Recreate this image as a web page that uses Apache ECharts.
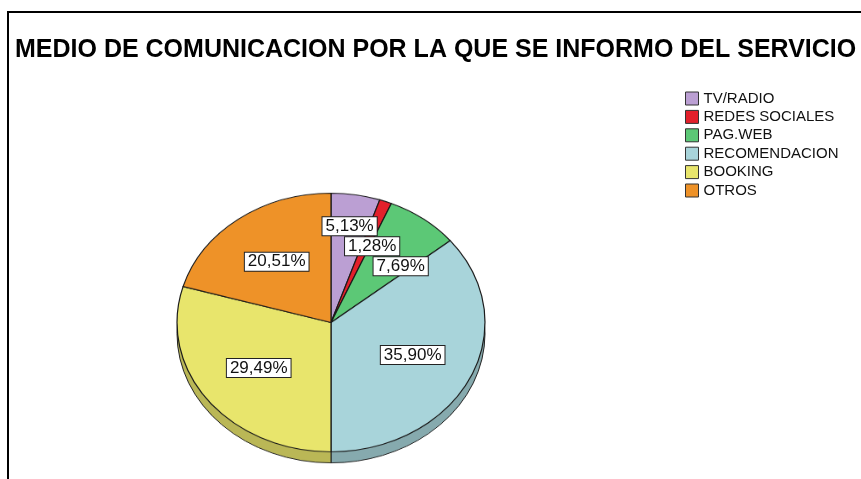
<!DOCTYPE html>
<html><head><meta charset="utf-8">
<script src="https://cdn.jsdelivr.net/npm/echarts@6/dist/echarts.min.js"></script>
<style>
html,body{margin:0;padding:0;background:#fff;width:861px;height:479px;overflow:hidden;position:relative}
#pie{position:absolute;left:0;top:0;width:861px;height:620px;transform-origin:0 322.5px;transform:scaleY(0.84)}
#main{position:absolute;left:0;top:0;width:861px;height:479px}
</style></head><body>
<div id="pie"></div><div id="main"></div>
<script>
// ---- data ----
const titleText = 'MEDIO DE COMUNICACION POR LA QUE SE INFORMO DEL SERVICIO';
const categories = ['TV/RADIO', 'REDES SOCIALES', 'PAG.WEB', 'RECOMENDACION', 'BOOKING', 'OTROS'];
const percentages = [5.13, 1.28, 7.69, 35.90, 29.49, 20.51];
const colors = ['#bb9fd3', '#e3202b', '#5cc876', '#a8d4da', '#e8e56c', '#ee9228'];

// ---- layout (style, not data) ----
const CX = 331, CY = 322.5, R = 154, K = 0.84, DEPTH = 11;
const FONT = 'Liberation Sans, Arial, sans-serif';

function shade(hex, f) {
  const n = parseInt(hex.slice(1), 16);
  const r = Math.round(((n >> 16) & 255) * f), g = Math.round(((n >> 8) & 255) * f), b = Math.round((n & 255) * f);
  return 'rgb(' + r + ',' + g + ',' + b + ')';
}
function pieData(colFn) {
  return categories.map((n, i) => ({ name: n, value: percentages[i], itemStyle: { color: colFn(i) } }));
}

// ---- elliptical (tilted) pie body: drawn in a vertically scaled container ----
const pieChart = echarts.init(document.getElementById('pie'), null, { renderer: 'canvas' });
const pieBase = {
  type: 'pie', radius: R, startAngle: 90, clockwise: true, silent: true,
  avoidLabelOverlap: false, label: { show: false }, labelLine: { show: false },
  emphasis: { disabled: true }, animation: false
};
pieChart.setOption({
  animation: false,
  series: [
    Object.assign({}, pieBase, {
      center: [CX, CY + DEPTH / K], z: 1,
      itemStyle: { borderColor: '#222', borderWidth: 1 },
      data: pieData(i => shade(colors[i], 0.8))
    }),
    Object.assign({}, pieBase, {
      center: [CX, CY], z: 2,
      itemStyle: { borderColor: '#1a1a1a', borderWidth: 1.2 },
      data: pieData(i => colors[i])
    })
  ]
});

// ---- title, legend, labels, frame ----
const chart = echarts.init(document.getElementById('main'), null, { renderer: 'canvas' });
chart.setOption({
  animation: false,
  backgroundColor: 'transparent',
  title: {
    text: titleText, left: 10, top: 33,
    textStyle: { fontFamily: FONT, fontSize: 25, fontWeight: 'bold', color: '#000' }
  },
  legend: {
    orient: 'vertical', left: 680, top: 86, itemWidth: 13, itemHeight: 13, itemGap: 3.4,
    icon: 'rect', selectedMode: false,
    textStyle: { fontFamily: FONT, fontSize: 15, color: '#111' },
    data: categories.map((n, i) => ({ name: n, itemStyle: { color: colors[i], borderColor: '#333', borderWidth: 1 } }))
  },
  graphic: [{
    type: 'rect', shape: { x: 8, y: 12, width: 900, height: 520 },
    style: { fill: 'none', stroke: '#000', lineWidth: 2 }, silent: true
  }],
  series: [{
    type: 'pie', center: [CX, CY], radius: R, startAngle: 90, clockwise: true, silent: true,
    avoidLabelOverlap: false, emphasis: { disabled: true },
    itemStyle: { color: 'rgba(0,0,0,0)', borderWidth: 0 },
    labelLine: { show: false },
    label: {
      show: true, position: 'inside',
      formatter: p => p.value.toFixed(2).replace('.', ',') + '%',
      fontFamily: FONT, fontSize: 17, color: '#111',
      backgroundColor: '#fff', borderColor: '#222', borderWidth: 1, padding: [1, 3, 0, 3]
    },
    labelLayout: function (p) {
      const r = p.labelRect;
      const dx = r.x + r.width / 2 - CX, dy = r.y + r.height / 2 - CY;
      const small = percentages[p.dataIndex] < 10;
      const f = small ? 1.45 : 1.13;
      const out = { x: CX + dx * f, y: CY + dy * f * K };
      if (small) out.moveOverlap = 'shiftY';
      return out;
    },
    data: categories.map((n, i) => ({ name: n, value: percentages[i] }))
  }]
});
</script>
</body></html>
